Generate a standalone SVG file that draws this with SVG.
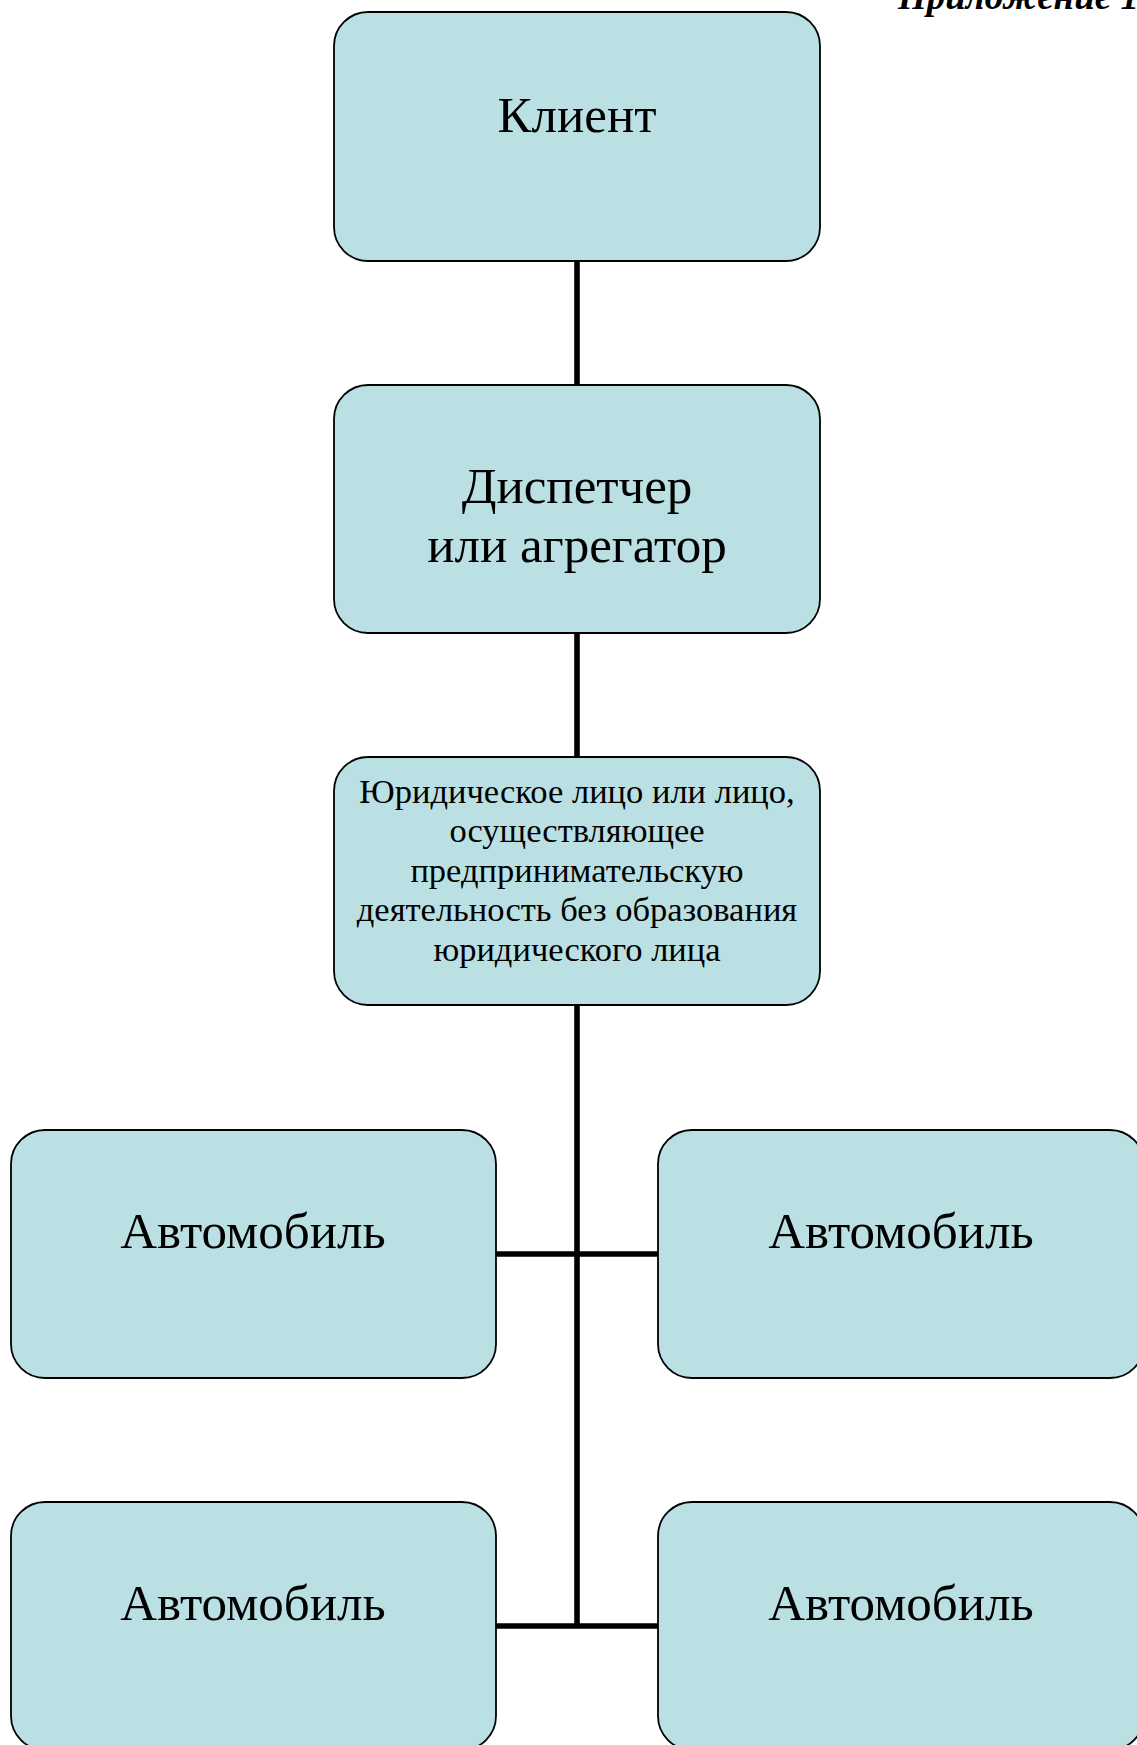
<svg xmlns="http://www.w3.org/2000/svg" width="1137" height="1745" viewBox="0 0 1137 1745">
<style>
.node{fill:#BAE0E3;stroke:#000;stroke-width:1.8}
.big{font-family:"Liberation Serif","Times New Roman",serif;font-size:51px;fill:#000;text-anchor:middle}
.small{font-family:"Liberation Serif","Times New Roman",serif;font-size:34.5px;fill:#000;text-anchor:middle}
.conn{stroke:#000;stroke-width:5.6;fill:none}
.hdr{font-family:"Liberation Serif","Times New Roman",serif;font-size:37px;font-weight:bold;font-style:italic;fill:#000}
</style>
<rect width="1137" height="1745" fill="#fff"/>
<text class="hdr" x="898" y="9">Приложение 1</text>
<g id="connectors">
<line class="conn" x1="577" y1="261" x2="577" y2="385"/>
<line class="conn" x1="577" y1="633" x2="577" y2="757"/>
<line class="conn" x1="577" y1="1005" x2="577" y2="1628"/>
<line class="conn" x1="496" y1="1254" x2="658" y2="1254"/>
<line class="conn" x1="496" y1="1626" x2="658" y2="1626"/>
</g>
<g id="client">
<rect class="node" x="334" y="12" width="486" height="249" rx="34"/>
<text class="big" x="577" y="132">Клиент</text>
</g>
<g id="dispatcher">
<rect class="node" x="334" y="385" width="486" height="248" rx="34"/>
<text class="big" x="577" y="503">Диспетчер</text>
<text class="big" x="577" y="562">или агрегатор</text>
</g>
<g id="legal">
<rect class="node" x="334" y="757" width="486" height="248" rx="34"/>
<text class="small" x="577" y="803">Юридическое лицо или лицо,</text>
<text class="small" x="577" y="842">осуществляющее</text>
<text class="small" x="577" y="882">предпринимательскую</text>
<text class="small" x="577" y="921">деятельность без образования</text>
<text class="small" x="577" y="961">юридического лица</text>
</g>
<g id="car1">
<rect class="node" x="11" y="1130" width="485" height="248" rx="34"/>
<text class="big" x="253" y="1248">Автомобиль</text>
</g>
<g id="car2">
<rect class="node" x="658" y="1130" width="486" height="248" rx="34"/>
<text class="big" x="901" y="1248">Автомобиль</text>
</g>
<g id="car3">
<rect class="node" x="11" y="1502" width="485" height="248" rx="34"/>
<text class="big" x="253" y="1620">Автомобиль</text>
</g>
<g id="car4">
<rect class="node" x="658" y="1502" width="486" height="248" rx="34"/>
<text class="big" x="901" y="1620">Автомобиль</text>
</g>
</svg>
